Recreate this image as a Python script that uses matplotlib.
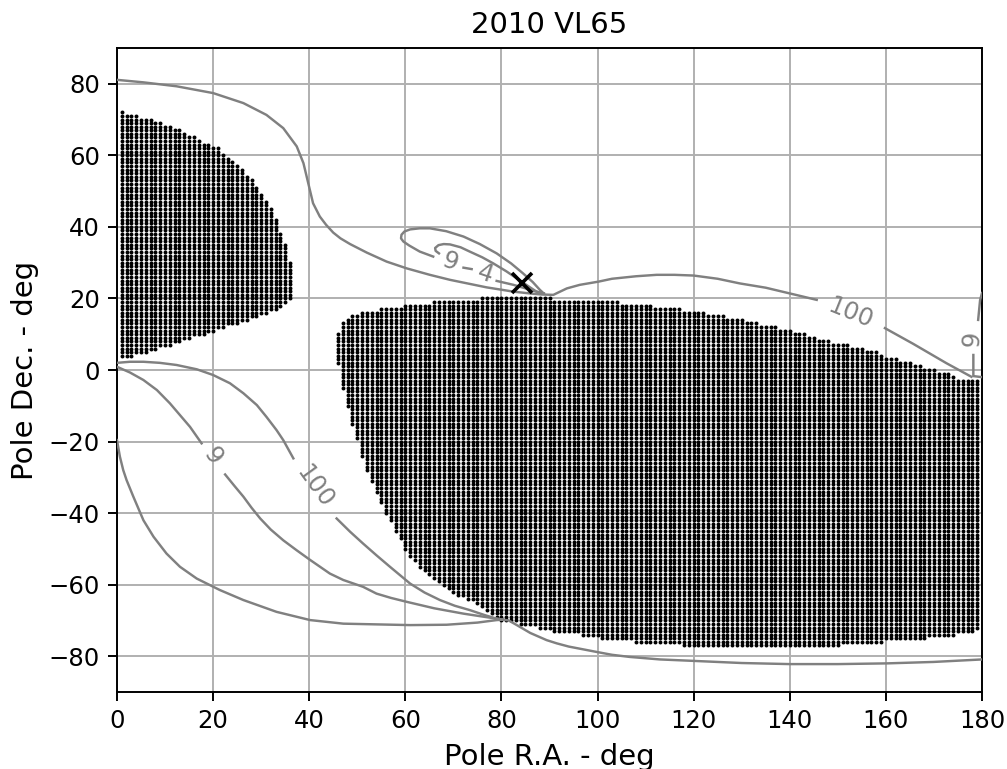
import matplotlib
matplotlib.use('Agg')
import matplotlib.pyplot as plt
import numpy as np

# left patch of solutions: one column per degree of R.A., Dec limits per column
left_ra = list(range(1, 37))
left_top = [72, 71, 71, 71, 70, 70, 70, 69, 69, 68, 68, 67, 67, 66, 65, 65, 64, 63,
            63, 62, 62, 60, 59, 58, 57, 56, 54, 53, 51, 49, 47, 45, 42, 38, 35, 30]
left_bot = [4, 4, 4, 5, 5, 5, 6, 6, 7, 7, 7, 8, 8, 9, 9, 10, 10, 10,
            11, 11, 12, 12, 13, 13, 13, 14, 14, 15, 15, 16, 16, 17, 17, 18, 19, 20]

# right patch: R.A. 46..179, limits given as steps (first R.A. of step, Dec)
right_ra_first, right_ra_last = 46, 179
right_top_ra = [46, 47, 48, 49, 51, 55, 60, 66, 76, 91, 105, 112, 118, 123, 127, 131,
                134, 138, 141, 144, 146, 149, 153, 156, 159, 160, 163, 166, 168, 171, 174, 175]
right_top_dec = [10, 13, 14, 15, 16, 17, 18, 19, 20, 19, 18, 17, 16, 15, 14, 13,
                 12, 11, 10, 9, 8, 7, 6, 5, 4, 3, 2, 1, 0, -1, -2, -3]
right_bot_ra = [46, 47, 48, 49, 50, 51, 52, 53, 54, 55, 56, 57, 58, 59, 60, 61, 62, 63,
                64, 65, 66, 67, 68, 69, 70, 71, 73, 75, 76, 77, 78, 79, 80, 84, 88, 91,
                97, 101, 108, 118, 151, 160, 169, 175, 179]
right_bot_dec = [2, -5, -10, -15, -19, -24, -28, -31, -34, -37, -40, -42, -45, -47, -50, -52, -53, -55,
                 -56, -57, -58, -59, -60, -61, -62, -63, -64, -65, -66, -67, -68, -69, -70, -71, -72, -73,
                 -74, -75, -76, -77, -76, -75, -74, -73, -72]

# nominal pole
pole_ra, pole_dec = 84.2, 24.2

# contour pieces (R.A., Dec), split where the labels sit
c100_top_a = [(0, 81.1), (5.5, 80.4), (12.4, 79.3), (20, 77.4), (26.3, 74.6), (31.1, 71.3),
              (34.6, 67.6), (37.4, 62.5), (38.8, 57.8), (39.8, 52.2), (40.8, 46.6), (42.2, 42.9),
              (43.5, 40.6), (45, 38.4), (46.5, 36.8), (48.5, 35.2), (52, 32.8), (56.1, 30.3),
              (60.3, 28.4), (65.1, 26.6), (69.3, 25.2), (76.9, 23.1), (82.5, 21.9), (86.6, 21.3),
              (88.5, 21.1), (90.8, 21), (93.6, 22.8), (96.3, 23.8), (100.2, 24.7), (103, 25.5),
              (108, 26.2), (112.3, 26.6), (116, 26.6), (120, 26.4), (125, 25.5), (129.6, 24.2),
              (135, 23), (140, 21.4), (142.5, 20.6), (145.6, 19.6)]
c100_top_b = [(159.8, 11.7), (165.7, 7.3), (172.6, 1.9), (177.8, -1.9)]
c9_right_a = [(180, 21.5), (179.6, 19.5), (179.2, 14)]
c9_right_b = [(178.2, 4.2), (178.2, -1.7), (180, -2.0)]
loop9 = [(65.8, 31.7), (63, 33.1), (60.8, 34.8), (59.6, 35.9), (59.1, 36.8), (59.2, 37.8),
         (59.8, 38.7), (61, 39.3), (63, 39.6), (65.1, 39.6), (68.5, 38.8), (72.1, 37.3),
         (75.5, 35.2), (79, 32.6), (82, 29.8), (84.5, 27), (86.5, 24.6), (88, 22.4), (88.8, 21.4)]
loop4 = [(67, 32.6), (66.3, 33.3), (66.2, 34.1), (66.9, 34.9), (68, 35.2), (69.3, 35.1),
         (71.5, 34.3), (73.4, 33.1), (76, 31.5), (78.3, 29.8), (81, 27.6), (83.2, 25.6),
         (85.5, 23.5), (87.3, 21.9), (88.8, 21.4)]
loop_dash = [(72.1, 28.6), (73.8, 28.2)]
loop_tail = [(79, 24.9), (82.5, 23.8), (87.3, 21.9), (88.8, 21.4)]
c100_low_a = [(0, 2.0), (2.7, 2.3), (5.5, 2.3), (8.9, 2.0), (12.4, 1.4), (16.6, 0.2), (20, -1.4),
              (23.5, -3.7), (26.3, -6.5), (29.1, -9.8), (31.1, -13.1), (33.2, -16.8),
              (34.6, -19.6), (36.7, -24.7)]
c100_low_b = [(45.7, -41.5), (48.5, -45.2), (51.2, -48.5), (54, -51.8), (56.8, -55), (61, -59.7),
              (64, -62.2), (67.2, -64.3), (70.3, -65.9), (73.4, -67.1), (76.5, -68.5), (79, -69.5),
              (80.3, -69.8)]
c9_low_a = [(0, 0.9), (2.7, -0.7), (5.5, -2.8), (8.3, -5.6), (11, -9.3), (13.1, -12.6),
            (15.2, -15.9), (17.6, -20.5)]
c9_low_b = [(22.5, -29.2), (24.5, -32.5), (26.3, -35.4), (28, -38.5), (29.8, -41.5), (32, -44.6),
            (34.6, -47.6), (37.4, -50.4), (40.2, -53.1), (44.3, -56.9), (47.1, -58.7), (51.2, -60.6),
            (54, -62.5), (57, -63.7), (60.3, -64.8), (66, -66.6), (72.1, -68.1), (76, -68.9),
            (79, -69.5), (80.3, -69.8)]
c_far = [(0, -19.6), (0.6, -24.2), (1.3, -28), (2, -30.8), (3.4, -35.4), (5.5, -42), (7.6, -46.6),
         (10.3, -51.3), (13.1, -55), (16.6, -58.3), (21.4, -61.5), (26.3, -64.3), (33.2, -67.6),
         (40.2, -69.9), (47.1, -70.9), (54, -71.1), (61, -71.3), (68.6, -71.2), (75, -70.6),
         (79, -69.9), (80.3, -69.8)]
c_bottom = [(80.3, -69.8), (81.5, -70), (83.2, -71.3), (86, -73.5), (89.4, -75.5), (91.5, -76.4),
            (94, -77.3), (99.8, -78.8), (103, -79.6), (106.7, -80.2), (113, -80.9), (119.9, -81.3),
            (130, -81.9), (140, -82.2), (150, -82.2), (160.2, -82), (169.9, -81.6), (180, -80.9)]

# contour labels: text, R.A., Dec, rotation
clabels = [('100', 152.7, 16.0, -22), ('9', 178.0, 8.7, 86), ('9', 69.3, 30.3, -19),
           ('4', 76.6, 27.0, -19), ('9', 20.0, -24.2, -54), ('100', 41.2, -32.6, -54)]

# build dot grid
pts_ra, pts_dec = [], []
for ra, top, bot in zip(left_ra, left_top, left_bot):
    for d in range(bot, top + 1):
        pts_ra.append(ra)
        pts_dec.append(d)
for ra in range(right_ra_first, right_ra_last + 1):
    top = right_top_dec[np.searchsorted(right_top_ra, ra, side='right') - 1]
    bot = right_bot_dec[np.searchsorted(right_bot_ra, ra, side='right') - 1]
    for d in range(bot, top + 1):
        pts_ra.append(ra)
        pts_dec.append(d)

fig = plt.figure(figsize=(1007 / 175, 769 / 175), dpi=175)
ax = fig.add_axes([117 / 1007, (769 - 692) / 769, 865 / 1007, 644 / 769])

ax.scatter(pts_ra, pts_dec, s=2.6, c='k', linewidths=0, zorder=2)

for piece in [c100_top_a, c100_top_b, c9_right_a, c9_right_b, loop9, loop4, loop_dash,
              loop_tail, c100_low_a, c100_low_b, c9_low_a, c9_low_b, c_far, c_bottom]:
    xs, ys = zip(*piece)
    ax.plot(xs, ys, color='0.5', lw=1.0, zorder=3)

for txt, x, y, rot in clabels:
    ax.text(x, y, txt, color='0.5', fontsize=10, rotation=rot, rotation_mode='anchor',
            ha='center', va='center', zorder=3)

ax.plot(pole_ra, pole_dec, 'kx', ms=8, mew=1.5, zorder=4)

ax.set_xlim(0, 180)
ax.set_ylim(-90, 90)
ax.set_xticks(range(0, 181, 20))
ax.set_yticks(range(-80, 81, 20))
ax.tick_params(labelsize=10)
ax.grid(True)
ax.set_axisbelow(True)
ax.set_xlabel('Pole R.A. - deg', fontsize=12)
ax.set_ylabel('Pole Dec. - deg', fontsize=12)
ax.set_title('2010 VL65', fontsize=12)

fig.savefig('out.png', dpi=175)
